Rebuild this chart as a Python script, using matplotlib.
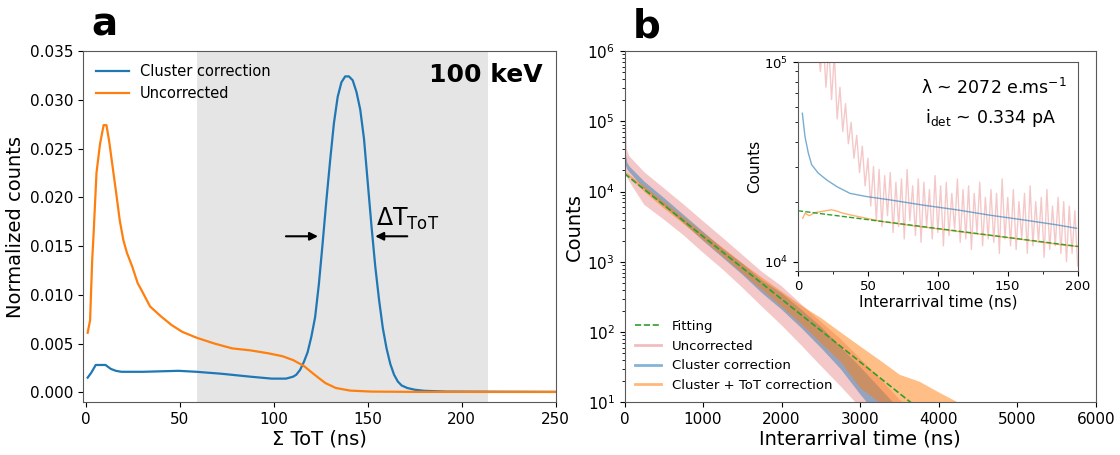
import numpy as np
import matplotlib.pyplot as plt
from matplotlib.lines import Line2D
from matplotlib.ticker import NullFormatter

# ---- panel a: ToT spectra (100 keV) ----
tot_unc = [1, 2.3, 3.4, 4.2, 5.7, 7.6, 9.5, 11, 12.4, 14.3, 16.2, 18.1, 20, 21.9, 24.7, 27.6,
           30.4, 34.2, 39.9, 45.6, 51.3, 58.9, 68.4, 77.9, 87.5, 97, 104.6, 110.3, 116, 121.7,
           127.4, 133, 140.7, 152, 175, 250]
cnt_unc = [0.0061, 0.0074, 0.0135, 0.0164, 0.0225, 0.0255, 0.0274, 0.0274, 0.0258, 0.0231, 0.0204,
           0.0176, 0.0156, 0.0143, 0.0129, 0.0112, 0.0102, 0.0088, 0.0078, 0.0069, 0.0062, 0.0056,
           0.0050, 0.0045, 0.0043, 0.0040, 0.0037, 0.0033, 0.0027, 0.0018, 0.00095, 0.00044,
           0.00017, 0.00007, 0.00004, 0.00003]

tot_clu = [1, 2.9, 5.3, 10.5, 13.3, 16, 19, 30.4, 49.4, 58.9, 72.2, 87.5, 98.9, 106.5, 110.3,
           112, 114, 116, 118, 120, 122, 124, 126, 128, 130, 132, 134, 136, 138, 140, 142, 144,
           146, 148, 150, 152, 154, 156, 158, 160, 162, 164, 166, 168, 171, 175, 180, 192, 250]
cnt_clu = [0.0015, 0.0020, 0.0028, 0.0028, 0.0024, 0.0022, 0.0021, 0.0021, 0.0022, 0.0021, 0.0019,
           0.0016, 0.0014, 0.0014, 0.0016, 0.0018, 0.0023, 0.0031, 0.0041, 0.0057, 0.0077, 0.0111,
           0.0153, 0.0197, 0.0238, 0.0276, 0.0303, 0.0318, 0.0324, 0.0324, 0.0320, 0.0308, 0.0290,
           0.0260, 0.0215, 0.0170, 0.0129, 0.0095, 0.0066, 0.0045, 0.0029, 0.0018, 0.0011, 0.0007,
           0.00044, 0.00026, 0.00015, 0.00007, 0.00004]

roi = [59, 214]

# ---- panel b: interarrival time histograms (envelopes of the noisy counts) ----
t_band = [0, 10, 30, 60, 250, 500, 750, 1000, 1250, 1500, 1750, 2000, 2250, 2500, 2750,
          3000, 3250, 3500, 3750, 4000, 4250]
unc_hi = [1e6, 2e5, 4e4, 3.2e4, 1.9e4, 1.12e4, 6.6e3, 3.8e3, 2.2e3, 1.26e3, 7.2e2, 4.5e2, 2.5e2,
          1.4e2, 80, 42, 22, 11, 6, 3, 1.5]
unc_lo = [3e4, 2.2e4, 1.6e4, 1.4e4, 6.5e3, 4e3, 2.4e3, 1.35e3, 7.8e2, 4.3e2, 2.3e2, 1.25e2, 65,
          33, 17, 8.5, 4, 2, 1, 0.5, 0.3]
clu_hi = [5.5e4, 3.5e4, 2.6e4, 2.3e4, 1.4e4, 8.2e3, 4.7e3, 2.7e3, 1.55e3, 9.5e2, 5.5e2, 3.6e2,
          2.1e2, 1.2e2, 62, 32, 16, 8, 4, 2, 1]
clu_lo = [3e4, 2.4e4, 2.1e4, 1.9e4, 1.1e4, 6.3e3, 3.6e3, 2.0e3, 1.15e3, 6.6e2, 3.6e2, 2.1e2,
          1.15e2, 60, 30, 13, 6, 3, 1.5, 0.8, 0.4]
tot_hi = [1.85e4, 1.9e4, 1.85e4, 1.75e4, 1.2e4, 7.2e3, 4.3e3, 2.6e3, 1.6e3, 9.6e2, 6e2, 3.8e2,
          2.4e2, 1.6e2, 1e2, 63, 40, 25, 20, 14, 10]
tot_lo = [1.6e4, 1.65e4, 1.7e4, 1.6e4, 1.0e4, 5.8e3, 3.5e3, 2.05e3, 1.2e3, 6.9e2, 4.0e2, 2.3e2,
          1.3e2, 70, 38, 16, 10, 6, 4, 2, 1]

fit_t = [0, 4000]
fit_counts = [1.8e4, 4.8]

# inset (first 200 ns)
in_clu_t = [3.1, 5.0, 7.4, 9.8, 14.5, 20.5, 27.7, 37.2, 49.1, 65.8, 89.6, 113.4, 137.2, 161,
            184.9, 199.2]
in_clu_c = [55500, 42400, 35000, 30600, 27800, 25700, 23800, 22000, 21200, 20400, 19200, 18200,
            17100, 16200, 15300, 14700]
in_tot_t = [3.4, 5, 8, 12, 16, 20, 24, 28, 32, 40, 60, 80, 100, 120, 150, 175, 190, 200]
in_tot_c = [16500, 17500, 17000, 17600, 17800, 18000, 18200, 17900, 17500, 17000, 15900, 15200,
            14600, 14000, 13200, 12500, 12100, 11900]
in_unc_peak_t = [14, 18, 22, 26, 30, 34, 38, 42, 46, 50, 54, 58, 62, 66, 70, 74, 78, 82, 86, 90,
                 94, 98, 102, 106, 110, 114, 118, 122, 126, 130, 134, 138, 142, 146, 150, 154,
                 158, 162, 166, 170, 174, 178, 182, 186, 190, 194, 198]
in_unc_peak = [1.3e5, 1.3e5, 1.2e5, 1.1e5, 7.5e4, 6.2e4, 5.0e4, 4.3e4, 3.8e4, 3.3e4, 3.0e4, 2.9e4,
               2.7e4, 2.8e4, 2.5e4, 2.6e4, 2.9e4, 2.4e4, 2.6e4, 2.5e4, 2.3e4, 2.7e4, 2.4e4, 2.5e4,
               2.2e4, 2.6e4, 2.3e4, 2.4e4, 2.2e4, 2.5e4, 2.1e4, 2.3e4, 2.2e4, 2.6e4, 2.1e4, 2.3e4,
               2.0e4, 2.2e4, 2.4e4, 2.0e4, 2.1e4, 2.3e4, 1.9e4, 2.1e4, 2.0e4, 1.9e4, 1.8e4]
in_unc_valley = [9.0e4, 7.5e4, 6.5e4, 5.2e4, 4.5e4, 3.9e4, 3.3e4, 2.8e4, 2.4e4, 1.9e4, 1.6e4,
                 1.5e4, 1.7e4, 1.4e4, 1.5e4, 1.3e4, 1.6e4, 1.35e4, 1.25e4, 1.5e4, 1.3e4, 1.4e4,
                 1.2e4, 1.35e4, 1.45e4, 1.25e4, 1.3e4, 1.15e4, 1.4e4, 1.2e4, 1.3e4, 1.25e4, 1.1e4,
                 1.3e4, 1.2e4, 1.15e4, 1.3e4, 1.1e4, 1.2e4, 1.25e4, 1.05e4, 1.15e4, 1.2e4, 1.1e4,
                 1.0e4, 1.1e4, 9.5e3]

plt.rcParams['axes.edgecolor'] = '0.35'

fig = plt.figure(figsize=(11.2, 4.55), dpi=100)

# ---------------- panel a ----------------
ax = fig.add_axes([0.0744, 0.1158, 0.4218, 0.772])
ax.axvspan(roi[0], roi[1], color='#e5e5e5', lw=0, zorder=0)
ax.plot(tot_clu, cnt_clu, color='tab:blue', lw=1.6, label='Cluster correction')
ax.plot(tot_unc, cnt_unc, color='tab:orange', lw=1.6, label='Uncorrected')
ax.set_xlim(-1.3, 250)
ax.set_ylim(-0.00103, 0.035)
ax.set_yticks([0, 0.005, 0.01, 0.015, 0.02, 0.025, 0.03, 0.035])
ax.set_yticklabels(['0.000', '0.005', '0.010', '0.015', '0.020', '0.025', '0.030', '0.035'])
ax.tick_params(labelsize=11)
ax.set_xlabel('Σ ToT (ns)', fontsize=14, labelpad=2)
ax.set_ylabel('Normalized counts', fontsize=14)
ax.legend(loc='upper left', frameon=False, fontsize=10.5, borderaxespad=0.5, handlelength=2.2)
ax.text(243, 0.0325, '100 keV', fontsize=18, fontweight='bold', ha='right', va='center')
ax.text(154.5, 0.0171, r'ΔT$_{\mathrm{ToT}}$', fontsize=17, va='baseline')
ax.annotate('', xy=(125, 0.0160), xytext=(105, 0.0160),
            arrowprops=dict(arrowstyle='-|>', color='k', lw=1.5, mutation_scale=12))
ax.annotate('', xy=(152.5, 0.0160), xytext=(172.5, 0.0160),
            arrowprops=dict(arrowstyle='-|>', color='k', lw=1.5, mutation_scale=12))

# ---------------- panel b ----------------
bx = fig.add_axes([0.5576, 0.1158, 0.4207, 0.772])
bx.fill_between(t_band, unc_lo, unc_hi, color='tab:red', alpha=0.25, lw=0)
bx.fill_between(t_band, clu_lo, clu_hi, color='tab:blue', alpha=0.45, lw=0)
bx.fill_between(t_band, tot_lo, tot_hi, color='tab:orange', alpha=0.5, lw=0)
bx.plot(fit_t, fit_counts, color='tab:green', ls='--', lw=1.2)
bx.set_yscale('log')
bx.set_xlim(0, 6000)
bx.set_ylim(10, 1e6)
bx.tick_params(labelsize=11)
bx.set_xlabel('Interarrival time (ns)', fontsize=14, labelpad=2)
bx.set_ylabel('Counts', fontsize=14, labelpad=2)
handles = [Line2D([], [], color='tab:green', ls='--', lw=1.2),
           Line2D([], [], color='tab:red', alpha=0.3, lw=2),
           Line2D([], [], color='tab:blue', alpha=0.55, lw=2),
           Line2D([], [], color='tab:orange', alpha=0.55, lw=2)]
bx.legend(handles, ['Fitting', 'Uncorrected', 'Cluster correction', 'Cluster + ToT correction'],
          loc='lower left', frameon=False, fontsize=9.5, borderaxespad=0.4)

# ---------------- inset ----------------
ix = fig.add_axes([0.7125, 0.405, 0.2497, 0.458])
unc_t = [v for pair in zip(in_unc_peak_t, [p + 2 for p in in_unc_peak_t]) for v in pair]
unc_c = [v for pair in zip(in_unc_peak, in_unc_valley) for v in pair]
ix.plot(unc_t, unc_c, color='tab:red', alpha=0.25, lw=1)
ix.plot(in_clu_t, in_clu_c, color='tab:blue', alpha=0.6, lw=1)
ix.plot(in_tot_t, in_tot_c, color='tab:orange', alpha=0.6, lw=1)
ix.plot(fit_t, fit_counts, color='tab:green', ls='--', lw=1)
ix.set_yscale('log')
ix.set_xlim(0, 200)
ix.set_ylim(9000, 1e5)
ix.yaxis.set_minor_formatter(NullFormatter())
ix.set_xticks([25, 75, 125, 175], minor=True)
ix.tick_params(labelsize=9.5)
ix.set_xlabel('Interarrival time (ns)', fontsize=11, labelpad=1)
ix.set_ylabel('Counts', fontsize=11, labelpad=1)
ix.text(0.70, 0.877, r'λ ~ 2072 e.ms$^{\mathregular{-1}}$', transform=ix.transAxes,
        fontsize=12.5, ha='center', va='center')
ix.text(0.69, 0.733, r'i$_{\mathregular{det}}$ ~ 0.334 pA', transform=ix.transAxes,
        fontsize=12.5, ha='center', va='center')

fig.text(91.7 / 1120, 1 - 35 / 455, 'a', fontsize=28, fontweight='bold', va='baseline')
fig.text(632.7 / 1120, 1 - 37 / 455, 'b', fontsize=28, fontweight='bold', va='baseline')

fig.savefig('out.png', dpi=100)
